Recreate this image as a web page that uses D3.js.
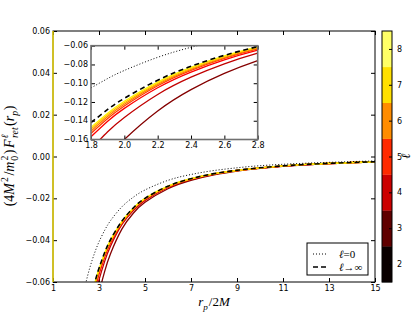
<!DOCTYPE html>
<html><head><meta charset="utf-8">
<script src="https://cdn.jsdelivr.net/npm/d3@7"></script>
<style>html,body{margin:0;padding:0;background:#fff}svg{display:block}</style>
</head><body><div id="chart"></div>
<script>
// ---- data ----
const rVals = [1.8, 1.9, 2.0, 2.2, 2.4, 2.6, 2.8, 3.0, 3.25, 3.5, 4.0, 4.5, 5.0, 6.0, 7.0, 8.0, 9.0, 10, 12, 15];
const l0   = [-0.105, -0.0950, -0.0864, -0.0724, -0.0617, -0.0532, -0.0464, -0.0408, -0.0352, -0.0307, -0.0240, -0.0194, -0.0160, -0.0114, -0.0086, -0.0067, -0.0054, -0.0044, -0.0032, -0.0021];
const lInf = [-0.142, -0.128, -0.1161, -0.0968, -0.0819, -0.0703, -0.061, -0.0534, -0.0458, -0.0398, -0.0308, -0.0245, -0.0200, -0.0142, -0.0106, -0.0082, -0.0066, -0.0054, -0.0038, -0.0025];
const l2 = [-0.202, -0.179, -0.160, -0.1297, -0.1069, -0.0896, -0.0760, -0.0653, -0.0548, -0.0465, -0.0346, -0.0270, -0.0219, -0.0154, -0.0114, -0.0088, -0.0070, -0.0057, -0.0040, -0.0026];
const l3 = [-0.170, -0.1518, -0.1365, -0.1120, -0.0936, -0.0793, -0.068, -0.0590, -0.0500, -0.0429, -0.0325, -0.0258, -0.0210, -0.0148, -0.0110, -0.0085, -0.0068, -0.0056, -0.0039, -0.0026];
const l4 = [-0.157, -0.1405, -0.1268, -0.1048, -0.0881, -0.0750, -0.0647, -0.0565, -0.0480, -0.0414, -0.0320, -0.0253, -0.0206, -0.0146, -0.0108, -0.0084, -0.0067, -0.0055, -0.0039, -0.0025];
const l5 = [-0.1535, -0.1377, -0.1243, -0.1027, -0.0863, -0.0735, -0.0634, -0.0553, -0.0471, -0.0408, -0.0316, -0.0251, -0.0204, -0.0145, -0.0108, -0.0083, -0.0067, -0.0055, -0.0038, -0.0025];
const l6 = [-0.151, -0.1355, -0.1224, -0.1013, -0.0852, -0.0726, -0.0626, -0.0547, -0.0467, -0.0405, -0.0314, -0.0249, -0.0203, -0.0144, -0.0107, -0.0083, -0.0067, -0.0055, -0.0038, -0.0025];
const l7 = [-0.149, -0.1337, -0.1208, -0.1001, -0.0842, -0.0717, -0.0619, -0.0542, -0.0464, -0.0402, -0.0312, -0.0247, -0.0201, -0.0143, -0.0107, -0.0083, -0.0066, -0.0054, -0.0038, -0.0025];
const l8 = [-0.147, -0.1320, -0.1193, -0.0988, -0.0832, -0.0709, -0.0613, -0.0538, -0.0461, -0.0400, -0.0310, -0.0246, -0.0200, -0.0142, -0.0106, -0.0082, -0.0066, -0.0054, -0.0038, -0.0025];
const modes = [2, 3, 4, 5, 6, 7, 8];
const modeSeries = [l2, l3, l4, l5, l6, l7, l8];
const lineColors = ['#840000', '#c10000', '#fe0000', '#ff3c00', '#ff7900', '#ffb500', '#fff200'];
const cbarColors = ['#0a0000', '#600000', '#cc0000', '#ff2a00', '#ff8c00', '#ffe000', '#ffff66'];
const xTicks = [1, 3, 5, 7, 9, 11, 13, 15];
const yTicks = [-0.06, -0.04, -0.02, 0.00, 0.02, 0.04, 0.06];
const xTicksIn = [1.8, 2.0, 2.2, 2.4, 2.6, 2.8];
const yTicksIn = [-0.16, -0.14, -0.12, -0.10, -0.08, -0.06];
const legendLabels = ['ℓ=0', 'ℓ→∞'];

// ---- layout ----
const W = 415, H = 314;
const svg = d3.select('#chart').append('svg').attr('width', W).attr('height', H);
const x = d3.scaleLinear().domain([1, 15]).range([53, 375]);
const y = d3.scaleLinear().domain([-0.06, 0.06]).range([282, 31]);
const xi = d3.scaleLinear().domain([1.8, 2.8]).range([91, 257.7]);
const yi = d3.scaleLinear().domain([-0.16, -0.06]).range([139.5, 45.7]);
const tickFont = 'DejaVu Sans, sans-serif';
const mathFont = 'Liberation Serif, DejaVu Serif, serif';
const fmt = v => d3.format('.2f')(v).replace('-', '\u2212');
const fmt1 = v => d3.format('.1f')(v);

const defs = svg.append('defs');
defs.append('clipPath').attr('id', 'clipMain').append('rect')
  .attr('x', 53).attr('y', 31).attr('width', 322).attr('height', 251);
defs.append('clipPath').attr('id', 'clipIn').append('rect')
  .attr('x', xi.range()[0]).attr('y', yi.range()[1])
  .attr('width', xi.range()[1] - xi.range()[0]).attr('height', yi.range()[0] - yi.range()[1]);

function styleAxis(g, size) {
  g.select('.domain').remove();
  g.selectAll('text').attr('font-family', tickFont).attr('font-size', size).attr('fill', '#000');
  g.selectAll('line').attr('stroke', '#000');
}

// main axes ticks (inward, all four sides)
svg.append('g').attr('transform', 'translate(0,282)')
  .call(d3.axisBottom(x).tickValues(xTicks).tickSizeInner(-4).tickSizeOuter(0).tickPadding(3).tickFormat(d3.format('d')))
  .call(g => styleAxis(g, 8));
svg.append('g').attr('transform', 'translate(0,31)')
  .call(d3.axisTop(x).tickValues(xTicks).tickSizeInner(-4).tickSizeOuter(0).tickFormat(''))
  .call(g => styleAxis(g, 8));
svg.append('g').attr('transform', 'translate(53,0)')
  .call(d3.axisLeft(y).tickValues(yTicks).tickSizeInner(-4).tickSizeOuter(0).tickPadding(3).tickFormat(fmt))
  .call(g => styleAxis(g, 8));
svg.append('g').attr('transform', 'translate(375,0)')
  .call(d3.axisRight(y).tickValues(yTicks).tickSizeInner(-4).tickSizeOuter(0).tickFormat(''))
  .call(g => styleAxis(g, 8));

const lineMain = d3.line().x((d, i) => x(rVals[i])).y(d => y(d)).curve(d3.curveNatural);
const lineIn = d3.line().x((d, i) => xi(rVals[i])).y(d => yi(d)).curve(d3.curveNatural);

const gMain = svg.append('g').attr('clip-path', 'url(#clipMain)');
modeSeries.forEach((s, k) => {
  gMain.append('path').attr('d', lineMain(s)).attr('fill', 'none')
    .attr('stroke', lineColors[k]).attr('stroke-width', 1.3);
});
gMain.append('path').attr('d', lineMain(l0)).attr('fill', 'none')
  .attr('stroke', '#000').attr('stroke-width', 1).attr('stroke-dasharray', '1,2');
gMain.append('path').attr('d', lineMain(lInf)).attr('fill', 'none')
  .attr('stroke', '#000').attr('stroke-width', 1.6).attr('stroke-dasharray', '5,3');

// main frame
svg.append('rect').attr('x', 53).attr('y', 31).attr('width', 322).attr('height', 251)
  .attr('fill', 'none').attr('stroke', '#000').attr('stroke-width', 1);
// highest-mode curve rising along r = 1
svg.append('line').attr('x1', x(1)).attr('x2', x(1)).attr('y1', y(0.06)).attr('y2', y(-0.06))
  .attr('stroke', '#f2dc00').attr('stroke-width', 1.4);

// ---- inset ----
const yb = yi.range()[0], yt = yi.range()[1], xl = xi.range()[0], xr = xi.range()[1];
svg.append('rect').attr('x', xl).attr('y', yt).attr('width', xr - xl).attr('height', yb - yt)
  .attr('fill', '#fff');
const gIn = svg.append('g').attr('clip-path', 'url(#clipIn)');
modeSeries.forEach((s, k) => {
  gIn.append('path').attr('d', lineIn(s)).attr('fill', 'none')
    .attr('stroke', lineColors[k]).attr('stroke-width', 1.3);
});
gIn.append('path').attr('d', lineIn(l0)).attr('fill', 'none')
  .attr('stroke', '#000').attr('stroke-width', 1).attr('stroke-dasharray', '1,2');
gIn.append('path').attr('d', lineIn(lInf)).attr('fill', 'none')
  .attr('stroke', '#000').attr('stroke-width', 1.6).attr('stroke-dasharray', '5,3.5');

svg.append('g').attr('transform', `translate(0,${yb})`)
  .call(d3.axisBottom(xi).tickValues(xTicksIn).tickSizeInner(-4).tickSizeOuter(0).tickPadding(3).tickFormat(fmt1))
  .call(g => styleAxis(g, 8));
svg.append('g').attr('transform', `translate(0,${yt})`)
  .call(d3.axisTop(xi).tickValues(xTicksIn).tickSizeInner(-4).tickSizeOuter(0).tickFormat(''))
  .call(g => styleAxis(g, 8));
svg.append('g').attr('transform', `translate(${xl},0)`)
  .call(d3.axisLeft(yi).tickValues(yTicksIn).tickSizeInner(-4).tickSizeOuter(0).tickPadding(3).tickFormat(fmt))
  .call(g => styleAxis(g, 8))
  .call(g => g.selectAll('text').attr('dy', '0.28em'));
svg.append('g').attr('transform', `translate(${xr},0)`)
  .call(d3.axisRight(yi).tickValues(yTicksIn).tickSizeInner(-4).tickSizeOuter(0).tickFormat(''))
  .call(g => styleAxis(g, 8));
svg.append('rect').attr('x', xl).attr('y', yt).attr('width', xr - xl).attr('height', yb - yt)
  .attr('fill', 'none').attr('stroke', '#707070').attr('stroke-width', 1.6);

// ---- legend ----
const lg = svg.append('g');
lg.append('rect').attr('x', 307).attr('y', 243).attr('width', 61).attr('height', 32)
  .attr('fill', '#fff').attr('stroke', '#000').attr('stroke-width', 1);
const legStyles = [{w: 1, dash: '1,2'}, {w: 1.6, dash: '5,3'}];
legendLabels.forEach((lab, i) => {
  const yy = 254 + i * 13;
  lg.append('line').attr('x1', 313).attr('x2', 328).attr('y1', yy).attr('y2', yy)
    .attr('stroke', '#000').attr('stroke-width', legStyles[i].w).attr('stroke-dasharray', legStyles[i].dash);
  const t = lg.append('text').attr('x', 339).attr('y', yy + 3.5)
    .attr('font-family', mathFont).attr('font-size', 11);
  t.append('tspan').attr('font-style', 'italic').text(lab[0]);
  t.append('tspan').text(lab.slice(1));
});

// ---- colorbar ----
const cbLin = d3.scaleLinear().domain([1.5, 8.5]).range([282, 31]);
const cbx = 382, cbw = 10;
const cbg = svg.append('g');
cbg.selectAll('rect').data(modes).join('rect')
  .attr('x', cbx).attr('width', cbw)
  .attr('y', d => cbLin(d + 0.5)).attr('height', d => cbLin(d - 0.5) - cbLin(d + 0.5) + 0.3)
  .attr('fill', (d, i) => cbarColors[i]);
cbg.append('rect').attr('x', cbx).attr('y', 31).attr('width', cbw).attr('height', 251)
  .attr('fill', 'none').attr('stroke', '#000').attr('stroke-width', 1);
svg.append('g').attr('transform', `translate(${cbx + cbw},0)`)
  .call(d3.axisRight(cbLin).tickValues(modes).tickSizeInner(-3).tickSizeOuter(0).tickPadding(5).tickFormat(d3.format('d')))
  .call(g => styleAxis(g, 8));
svg.append('text').attr('transform', 'translate(410,156) rotate(-90)')
  .attr('text-anchor', 'middle').attr('font-family', mathFont).attr('font-style', 'italic')
  .attr('font-size', 13).text('ℓ');

// ---- axis labels with sub/superscripts ----
function mathText(sel, parts, base) {
  let cur = 0;
  parts.forEach(p => {
    const target = p.s === 'sup' ? -base * 0.42 : p.s === 'sub' ? base * 0.3 : 0;
    const ts = sel.append('tspan').text(p.t).attr('dy', target - cur);
    if (p.dx) ts.attr('dx', p.dx);
    ts.attr('font-size', p.s ? base * 0.7 : base);
    if (p.i) ts.attr('font-style', 'italic');
    cur = target;
  });
}
const yl = svg.append('text').attr('transform', 'translate(14,156) rotate(-90)')
  .attr('text-anchor', 'middle').attr('font-family', mathFont).attr('fill', '#000');
mathText(yl, [
  {t: '(4'}, {t: 'M', i: 1}, {t: '2', s: 'sup', dx: 1}, {t: '/', dx: 1.5}, {t: 'm', i: 1},
  {t: '2', s: 'sup', dx: 1}, {t: '0', s: 'sub', dx: -5}, {t: ')', dx: 1.5}, {t: 'F', i: 1, dx: 1.5},
  {t: 'ℓ', s: 'sup', i: 1, dx: 1}, {t: 'ret', s: 'sub', i: 1, dx: -3.5}, {t: '(', dx: 1.5}, {t: 'r', i: 1},
  {t: 'p', s: 'sub', i: 1}, {t: ')', dx: 0.5}
], 14);
const xlab = svg.append('text').attr('x', 214).attr('y', 306)
  .attr('text-anchor', 'middle').attr('font-family', mathFont).attr('fill', '#000');
mathText(xlab, [{t: 'r', i: 1}, {t: 'p', s: 'sub', i: 1}, {t: '/2', dx: 1}, {t: 'M', i: 1}], 13);
</script>
</body></html>
